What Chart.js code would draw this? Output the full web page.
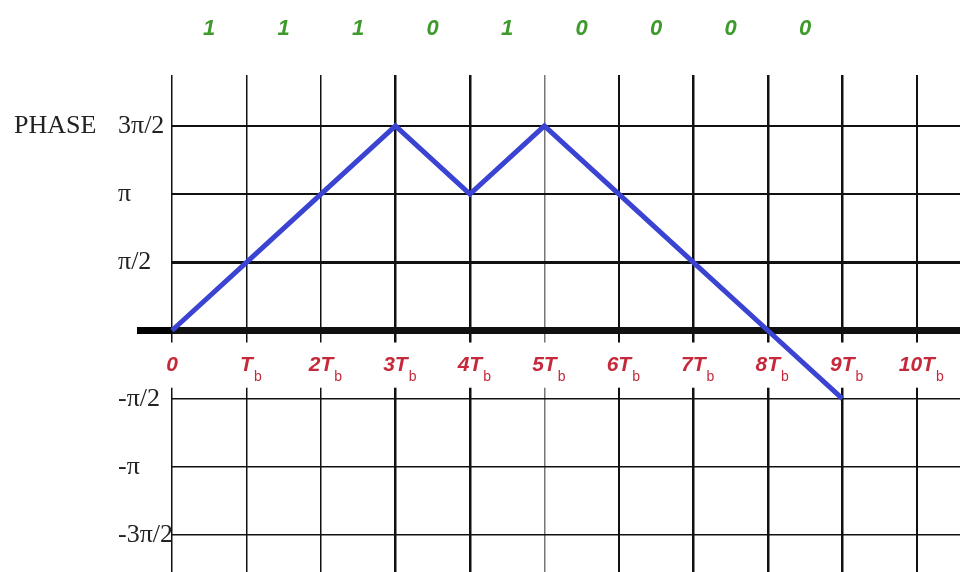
<!DOCTYPE html>
<html>
<head>
<meta charset="utf-8">
<script src="https://cdn.jsdelivr.net/npm/chart.js@4.4.0/dist/chart.umd.min.js"></script>
<style>
  body { margin: 0; background: #fff; }
  canvas { display: block; }
</style>
</head>
<body>
<canvas id="phaseChart" width="960" height="572"></canvas>
<script>
// bit periods (multiples of Tb) and phase (multiples of pi)
var times = [0, 1, 2, 3, 4, 5, 6, 7, 8, 9];
var phase = [0, 0.5, 1, 1.5, 1, 1.5, 1, 0.5, 0, -0.5];

var bits = ['1', '1', '1', '0', '1', '0', '0', '0', '0'];
var bitCenters = [0.5, 1.5, 2.5, 3.5, 4.5, 5.5, 6.5, 7.5, 8.5];

var xTickValues = [0, 1, 2, 3, 4, 5, 6, 7, 8, 9, 10];
var xTickMain = ['0', 'T', '2T', '3T', '4T', '5T', '6T', '7T', '8T', '9T', '10T'];
var xTickSub = ['', 'b', 'b', 'b', 'b', 'b', 'b', 'b', 'b', 'b', 'b'];

var yTickValues = [1.5, 1, 0.5, 0, -0.5, -1, -1.5];
var yTickLabels = ['3\u03c0/2', '\u03c0', '\u03c0/2', '', '-\u03c0/2', '-\u03c0', '-3\u03c0/2'];

var labelRed = '#c42a3c';

// vertical grid weights
function xGridWidth(v) {
    if (v === 3 || v === 4 || v === 7 || v === 8 || v === 9) return 2.5;
    if (v === 6 || v === 10) return 2;
    return 1.5;
}
function yGridWidth(v) {
    if (v === 0) return 7;
    if (v === 0.5) return 3;
    if (v > 0) return 2;
    return 1.6;
}

var labelPlugin = {
    id: 'phaseLabels',
    beforeDatasetsDraw: function (chart) {
        var ctx = chart.ctx, x = chart.scales.x, y = chart.scales.y;
        var area = chart.chartArea;
        var y0 = y.getPixelForValue(0);
        var yn = y.getPixelForValue(-0.5);

        // clear a band under the time axis for the labels
        ctx.save();
        ctx.fillStyle = '#fff';
        ctx.fillRect(area.left - 2, y0 + 12, area.right - area.left + 4, yn - y0 - 23);

        ctx.fillStyle = labelRed;
        ctx.textBaseline = 'alphabetic';
        for (var i = 0; i < xTickValues.length; i++) {
            var px = x.getPixelForValue(xTickValues[i]);
            ctx.font = 'italic bold 21px "Liberation Sans", Arial, sans-serif';
            ctx.textAlign = 'center';
            ctx.fillText(xTickMain[i], px, y0 + 40);
            if (xTickSub[i]) {
                var w = ctx.measureText(xTickMain[i]).width;
                ctx.font = '14px "Liberation Sans", Arial, sans-serif';
                ctx.textAlign = 'left';
                ctx.fillText(xTickSub[i], px + w / 2 + 1, y0 + 50);
            }
        }

        // axis title
        ctx.fillStyle = '#222';
        ctx.font = '26px "Liberation Serif", "Times New Roman", serif';
        ctx.textAlign = 'left';
        ctx.textBaseline = 'middle';
        ctx.fillText('PHASE', 14, y.getPixelForValue(1.5));
        ctx.restore();
    }
};

var ctx = document.getElementById('phaseChart');

var chartGraph = new Chart(ctx, {
    type: 'line',
    data: {
        datasets: [{
            label: 'phase',
            data: times.map(function (t, i) { return { x: t, y: phase[i] }; }),
            borderColor: '#3b44d2',
            borderWidth: 5,
            pointRadius: 0,
            tension: 0,
            fill: false,
            clip: false
        }]
    },
    options: {
        responsive: false,
        animation: false,
        devicePixelRatio: 1,
        layout: { padding: { left: 118, top: 0, right: 0, bottom: 0 } },
        plugins: {
            legend: { display: false },
            tooltip: { enabled: false }
        },
        scales: {
            x: {
                type: 'linear',
                position: 'bottom',
                min: 0,
                max: 10.58,
                afterBuildTicks: function (scale) {
                    scale.ticks = xTickValues.map(function (v) { return { value: v }; });
                },
                afterFit: function (scale) {
                    scale.height = 0;
                    scale.paddingLeft = 0;
                    scale.paddingRight = 0;
                },
                ticks: { display: false },
                border: { display: false },
                grid: {
                    drawTicks: false,
                    color: function (c) { return c.tick && c.tick.value === 5 ? '#777' : '#111'; },
                    lineWidth: function (c) { return c.tick ? xGridWidth(c.tick.value) : 1; }
                }
            },
            x2: {
                type: 'linear',
                position: 'top',
                min: 0,
                max: 10.58,
                afterBuildTicks: function (scale) {
                    scale.ticks = bitCenters.map(function (v) { return { value: v }; });
                },
                afterFit: function (scale) {
                    scale.height = 75;
                    scale.paddingLeft = 0;
                    scale.paddingRight = 0;
                },
                ticks: {
                    autoSkip: false,
                    maxRotation: 0,
                    padding: 33,
                    color: '#3f9a2c',
                    font: { family: '"Liberation Sans", Arial, sans-serif', size: 22, style: 'italic', weight: 'bold' },
                    callback: function (v, i) { return bits[i]; }
                },
                border: { display: false },
                grid: { display: false, drawTicks: false }
            },
            y: {
                type: 'linear',
                position: 'left',
                min: -1.771,
                max: 1.874,
                afterBuildTicks: function (scale) {
                    scale.ticks = yTickValues.map(function (v) { return { value: v }; });
                },
                afterFit: function (scale) {
                    scale.width = 54;
                    scale.paddingTop = 0;
                    scale.paddingBottom = 0;
                },
                ticks: {
                    autoSkip: false,
                    crossAlign: 'far',
                    color: '#222',
                    font: { family: '"Liberation Serif", "Times New Roman", serif', size: 26 },
                    callback: function (v) { return yTickLabels[yTickValues.indexOf(v)]; }
                },
                border: { display: false },
                grid: {
                    drawTicks: true,
                    tickLength: 35,
                    tickWidth: function (c) { return c.tick && c.tick.value === 0 ? 7 : 0; },
                    tickColor: function (c) { return c.tick && c.tick.value === 0 ? '#000' : 'rgba(0,0,0,0)'; },
                    color: '#111',
                    lineWidth: function (c) { return c.tick ? yGridWidth(c.tick.value) : 1; }
                }
            }
        }
    },
    plugins: [labelPlugin]
});
</script>
</body>
</html>
